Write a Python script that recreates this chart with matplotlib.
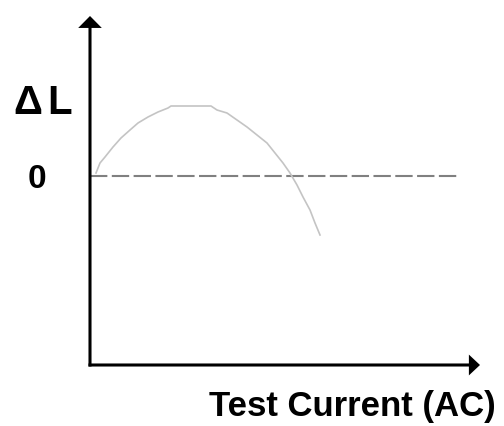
import matplotlib
matplotlib.use('Agg')
import matplotlib.pyplot as plt

plt.rcParams['font.family'] = ['Liberation Sans', 'DejaVu Sans']
plt.rcParams['lines.scale_dashes'] = False

# curve (x: test current, y: delta L, zero at dashed line)
current = [6, 10, 15, 23, 31, 40, 48, 58, 68, 78, 81, 121, 127, 137, 147,
           157, 167, 177, 185, 193, 200, 207, 213, 220, 225, 230]
delta_l = [3, 13, 19, 29, 38, 46, 53, 59, 64, 68, 70, 70, 66, 63, 56,
           49, 41, 33, 23, 13, 3, -9, -21, -34, -47, -59]

zero_line_end = 367
x_axis_y = -189
y_axis_top = 160
x_axis_end = 383

fig = plt.figure(figsize=(5.04, 4.26), dpi=100)
ax = fig.add_axes([0, 0, 1, 1])
ax.set_xlim(-90, 414)
ax.set_ylim(-250, 176)
ax.axis('off')

# zero reference line
ax.plot([0, zero_line_end], [0, 0], color='#808080', lw=1.5,
        linestyle=(0, (12.5, 3.2)), solid_capstyle='butt')

# measured curve
ax.plot(current, delta_l, color='#c4c4c4', lw=1.2)

# axes with arrow heads
ax.annotate('', xy=(0, y_axis_top), xytext=(0, x_axis_y - 1.5),
            arrowprops=dict(width=2.2, headwidth=17, headlength=8.6,
                            shrink=0, color='black', lw=0))
ax.annotate('', xy=(x_axis_end + 7, x_axis_y), xytext=(-1.5, x_axis_y),
            arrowprops=dict(width=2.2, headwidth=15, headlength=8,
                            shrink=0, color='black', lw=0))

ax.text(-77, 62, '\u0394', fontsize=29, fontweight='bold', ha='left', va='baseline')
ax.text(-43, 62, 'L', fontsize=29, fontweight='bold', ha='left', va='baseline')
ax.text(-53.5, -12, '0', fontsize=24, fontweight='bold', ha='center', va='baseline')
ax.text(406, -240, 'Test Current (AC)', fontsize=25, fontweight='bold',
        ha='right', va='baseline')

fig.savefig('out.png', dpi=100)
